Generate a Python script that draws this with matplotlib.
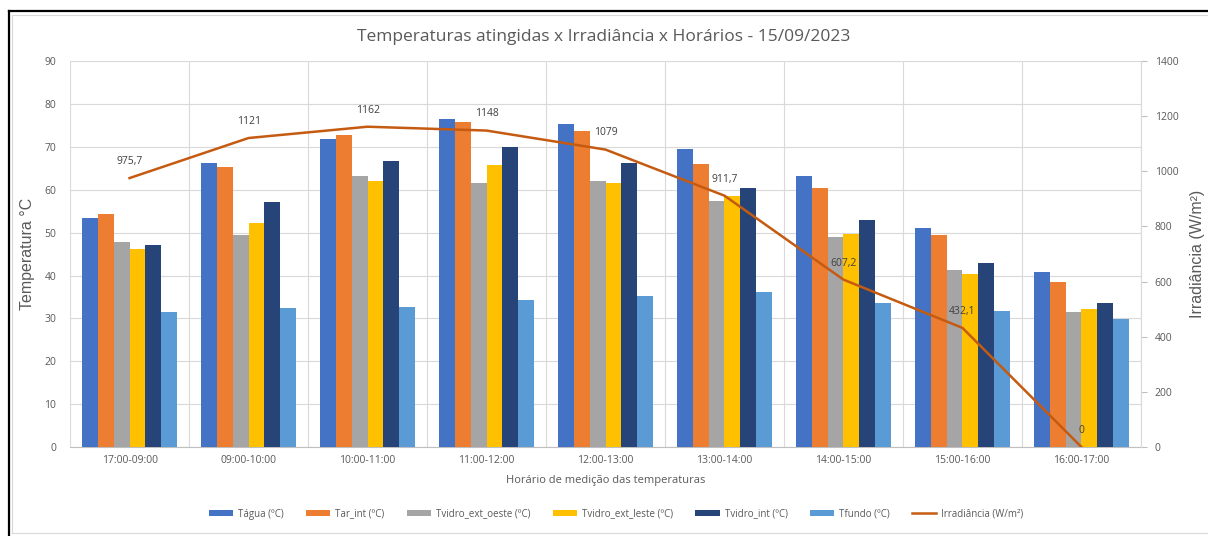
# -*- coding: utf-8 -*-
import matplotlib
matplotlib.use("Agg")
import matplotlib.pyplot as plt
import matplotlib.lines as mlines
import numpy as np

plt.rcParams["font.family"] = ["Open Sans", "DejaVu Sans"]

horarios = ["17:00-09:00", "09:00-10:00", "10:00-11:00", "11:00-12:00",
            "12:00-13:00", "13:00-14:00", "14:00-15:00", "15:00-16:00",
            "16:00-17:00"]

t_agua = [53.5, 66.2, 71.8, 76.6, 75.3, 69.5, 63.3, 51.1, 40.8]
t_ar_int = [54.3, 65.3, 72.7, 75.8, 73.8, 66.0, 60.5, 49.4, 38.5]
t_vidro_oeste = [47.9, 49.4, 63.2, 61.5, 62.0, 57.3, 49.0, 41.3, 31.5]
t_vidro_leste = [46.1, 52.3, 62.1, 65.7, 61.5, 58.5, 49.7, 40.3, 32.1]
t_vidro_int = [47.2, 57.1, 66.7, 70.0, 66.2, 60.5, 52.9, 43.0, 33.5]
t_fundo = [31.5, 32.4, 32.6, 34.3, 35.2, 36.1, 33.5, 31.7, 29.8]
irradiancia = [975.7, 1121, 1162, 1148, 1079, 911.7, 607.2, 432.1, 0]
irr_labels = ["975,7", "1121", "1162", "1148", "1079", "911,7", "607,2",
              "432,1", "0"]

series = [
    (t_agua, "Tágua (ºC)", "#4472C4"),
    (t_ar_int, "Tar_int (ºC)", "#ED7D31"),
    (t_vidro_oeste, "Tvidro_ext_oeste (ºC)", "#A5A5A5"),
    (t_vidro_leste, "Tvidro_ext_leste (ºC)", "#FFC000"),
    (t_vidro_int, "Tvidro_int (ºC)", "#264478"),
    (t_fundo, "Tfundo (ºC)", "#5B9BD5"),
]

txt = "#595959"
grid_c = "#D9D9D9"
W, H = 1208, 536

fig = plt.figure(figsize=(W / 100, H / 100), dpi=100)

# screenshot frame: dark line top/left, light inner line
def fline(x0, y0, x1, y1, c, lw):
    fig.add_artist(mlines.Line2D([x0 / W, x1 / W], [1 - y0 / H, 1 - y1 / H],
                                 transform=fig.transFigure, color=c,
                                 linewidth=lw))

fline(9, 11, 1208, 11, "#000000", 1.6)
fline(9, 11, 9, 536, "#000000", 1.6)
fline(12, 15, 1208, 15, "#D9D9D9", 0.8)
fline(12, 15, 12, 533, "#D9D9D9", 0.8)
fline(12, 533, 1208, 533, "#D9D9D9", 0.8)

ax = fig.add_axes([0.058, 0.166, 0.8865, 0.72])

x = np.arange(len(horarios))
w = 0.8 / 6
for i, (vals, lab, col) in enumerate(series):
    ax.bar(x - 0.4 + w * (i + 0.5), vals, w, color=col, label=lab, zorder=3)

ax.set_xlim(-0.5, len(horarios) - 0.5)
ax.set_ylim(0, 90)
ax.set_yticks(range(0, 91, 10))
ax.set_xticks(x)
ax.set_xticklabels(horarios)
ax.set_xticks(np.arange(-0.5, len(horarios), 1), minor=True)
ax.grid(axis="y", color=grid_c, linewidth=0.8, zorder=0)
ax.grid(axis="x", which="minor", color=grid_c, linewidth=0.8, zorder=0)
ax.tick_params(axis="x", which="both", length=0, labelsize=7.5,
               colors=txt, pad=6)
ax.tick_params(axis="y", length=0, labelsize=7.5, colors=txt, pad=10)
for s in ["top", "right", "left"]:
    ax.spines[s].set_visible(False)
ax.spines["bottom"].set_color("#BFBFBF")
ax.set_ylabel("Temperatura °C", fontsize=11.5, color=txt, labelpad=7,
              family=["Liberation Sans", "DejaVu Sans"])
ax.set_xlabel("Horário de medição das temperaturas", fontsize=8,
              color=txt, labelpad=6)

ax2 = ax.twinx()
ax2.plot(x, irradiancia, color="#C55A11", linewidth=1.8,
         label="Irradiância (W/m²)", zorder=4)
for xi, yi, s in zip(x, irradiancia, irr_labels):
    ax2.annotate(s, (xi, yi), xytext=(0, 8), textcoords="offset points",
                 ha="center", va="bottom", fontsize=7.5, color="#404040")
ax2.set_ylim(0, 1400)
ax2.set_yticks(range(0, 1401, 200))
ax2.tick_params(axis="y", length=4, color="#BFBFBF", labelsize=7.5,
                colors=txt, pad=6)
for s in ["top", "left", "bottom"]:
    ax2.spines[s].set_visible(False)
ax2.spines["right"].set_color("#D9D9D9")
ax2.set_ylabel("Irradiância (W/m²)", fontsize=11.5, color=txt, labelpad=8,
               family=["Liberation Sans", "DejaVu Sans"])

fig.suptitle("Temperaturas atingidas x Irradiância x Horários - 15/09/2023",
             y=0.945, fontsize=12.5, color=txt)

h1, l1 = ax.get_legend_handles_labels()
h2, l2 = ax2.get_legend_handles_labels()
fig.legend(h1 + h2, l1 + l2, loc="center", bbox_to_anchor=(0.51, 0.041),
           ncol=7, frameon=False, fontsize=7, labelcolor=txt,
           handlelength=2.5, handleheight=0.6, columnspacing=2.3,
           handletextpad=0.5)

fig.savefig("out.png", dpi=100)
